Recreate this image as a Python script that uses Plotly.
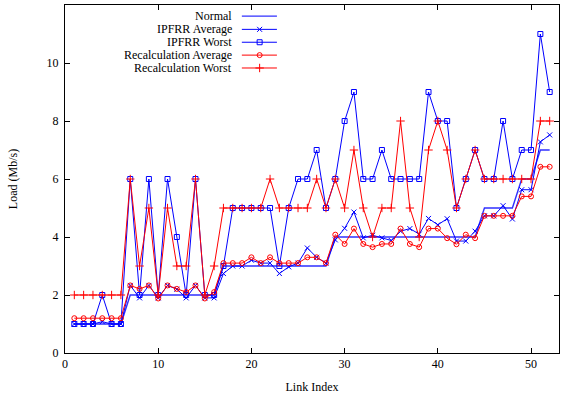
import plotly.graph_objects as go

link_index = list(range(1, 53))

normal = [1, 1, 1, 1, 1, 1,
          2, 2, 2, 2, 2, 2, 2, 2, 2, 2,
          3, 3, 3, 3, 3, 3, 3, 3, 3, 3, 3, 3,
          4, 4, 4, 4, 4, 4, 4, 4, 4, 4, 4, 4, 4, 4, 4, 4,
          5, 5, 5, 5, 6, 6, 7, 7]

ipfrr_avg = [1, 1, 1, 1.08, 1, 1, 2.33, 1.9, 2.33, 1.9, 2.33, 2.2, 1.9, 2.33, 1.9, 1.9,
             2.74, 3.0, 3.0, 3.2, 3.1, 3.1, 2.74, 2.97, 3.1, 3.62, 3.3, 3.1,
             3.9, 4.3, 4.86, 3.97, 4.06, 3.97, 3.88, 4.2, 4.29, 4.1, 4.64, 4.42,
             4.63, 3.86, 3.86, 4.2, 4.73, 4.73, 5.08, 4.62, 5.63, 5.63, 7.28, 7.52]

ipfrr_worst = [1, 1, 1, 2, 1, 1, 6, 2, 6, 2, 6, 4, 2, 6, 2, 2,
               3, 5, 5, 5, 5, 5, 3, 5, 6, 6, 7, 5,
               6, 8, 9, 6, 6, 7, 6, 6, 6, 6, 9, 8,
               8, 5, 6, 7, 6, 6, 8, 6, 7, 7, 11, 9]

recalc_avg = [1.2, 1.2, 1.2, 1.2, 1.2, 1.2, 2.33, 2.21, 2.33, 1.88, 2.33, 2.21, 2.1, 2.33, 1.88, 2.1,
              3.1, 3.1, 3.1, 3.3, 3.1, 3.3, 3.1, 3.1, 3.1, 3.3, 3.3, 3.1,
              4.08, 3.76, 4.29, 3.76, 3.65, 3.76, 3.76, 4.29, 3.76, 3.65, 4.29, 4.29,
              3.96, 3.75, 4.08, 3.96, 4.73, 4.73, 4.73, 4.73, 5.4, 5.4, 6.42, 6.42]

recalc_worst = [2, 2, 2, 2, 2, 2, 6, 3, 5, 2, 5, 3, 3, 6, 2, 3,
                5, 5, 5, 5, 5, 6, 5, 5, 5, 5, 6, 5,
                6, 5, 7, 5, 4, 5, 5, 8, 5, 4, 7, 8,
                7, 5, 6, 7, 6, 6, 6, 6, 6, 6, 8, 8]

series_names = ["Normal", "IPFRR Average", "IPFRR Worst",
                "Recalculation Average", "Recalculation Worst"]
x_ticks = [0, 10, 20, 30, 40, 50]
y_ticks = [0, 2, 4, 6, 8, 10, 12]

BLUE = "#0000ff"
RED = "#ff0000"
FONT = "Liberation Serif"

styles = [
    dict(color="#3030ff", symbol=None, width=1.4, size=0),
    dict(color=BLUE, symbol="x-thin-open", width=1, size=5),
    dict(color=BLUE, symbol="square-open", width=1, size=5),
    dict(color=RED, symbol="circle-open", width=1, size=5),
    dict(color=RED, symbol="cross-thin-open", width=1, size=6),
]
data = [normal, ipfrr_avg, ipfrr_worst, recalc_avg, recalc_worst]

fig = go.Figure()
for name, ys, st in zip(series_names, data, styles):
    if st["symbol"] is None:
        fig.add_trace(go.Scatter(x=link_index, y=ys, mode="lines", name=name,
                                 line=dict(color=st["color"], width=st["width"]),
                                 showlegend=False))
    else:
        fig.add_trace(go.Scatter(x=link_index, y=ys, mode="lines+markers", name=name,
                                 line=dict(color=st["color"], width=st["width"]),
                                 marker=dict(symbol=st["symbol"], size=st["size"],
                                             color=st["color"],
                                             line=dict(color=st["color"], width=1)),
                                 showlegend=False))

# custom gnuplot-style key (text right-aligned, sample to the right)
key_x0, key_x1, key_xm = 0.358, 0.429, 0.394
key_text_x = 0.342
key_rows = [0.968, 0.930, 0.893, 0.856, 0.819]
for name, st, ky in zip(series_names, styles, key_rows):
    fig.add_trace(go.Scatter(x=[key_x0, key_x1], y=[ky, ky], mode="lines",
                             xaxis="x2", yaxis="y2", showlegend=False, hoverinfo="skip",
                             line=dict(color=st["color"], width=st["width"])))
    if st["symbol"] is not None:
        fig.add_trace(go.Scatter(x=[key_xm], y=[ky], mode="markers",
                                 xaxis="x2", yaxis="y2", showlegend=False, hoverinfo="skip",
                                 marker=dict(symbol=st["symbol"], size=st["size"],
                                             color=st["color"],
                                             line=dict(color=st["color"], width=1))))
    fig.add_annotation(x=key_text_x, y=ky, xref="paper", yref="paper",
                       text=name, showarrow=False, xanchor="right", yanchor="middle",
                       font=dict(family=FONT, size=12, color="black"))

axis_common = dict(showline=True, linecolor="black", linewidth=1, mirror="allticks",
                   ticks="inside", ticklen=5, tickcolor="black", showgrid=False,
                   zeroline=False, tickfont=dict(family=FONT, size=12, color="black"))

fig.update_layout(
    width=567, height=400,
    margin=dict(l=65, r=8, t=5, b=47),
    paper_bgcolor="white", plot_bgcolor="white",
    xaxis=dict(range=[0, 53], tickvals=x_ticks, **axis_common,
               title=dict(text="Link Index", font=dict(family=FONT, size=12, color="black"),
                          standoff=12)),
    yaxis=dict(range=[0, 12], tickvals=y_ticks, ticklabelstandoff=3, **axis_common,
               title=dict(text="Load (Mb/s)", font=dict(family=FONT, size=12, color="black"),
                          standoff=26)),
    xaxis2=dict(overlaying="x", range=[0, 1], visible=False),
    yaxis2=dict(overlaying="y", range=[0, 1], visible=False),
    showlegend=False,
)

fig.write_html("out.html")
